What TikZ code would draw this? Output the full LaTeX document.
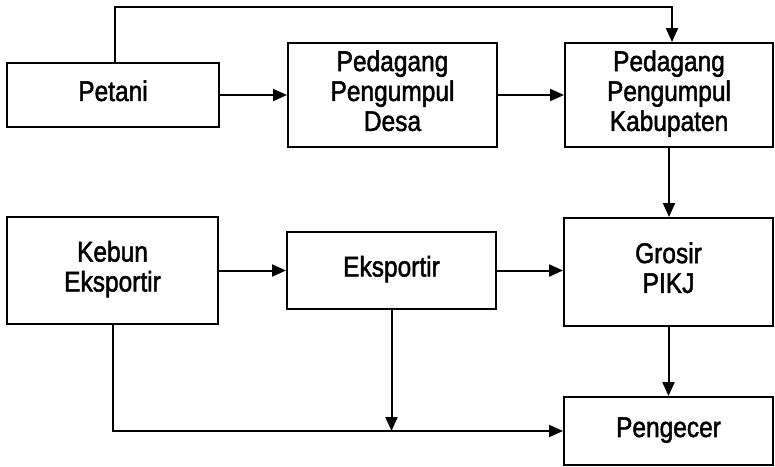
\documentclass[tikz,border=0pt]{standalone}
\usepackage{fontspec}
\usepackage{graphicx}
\setmainfont{Liberation Sans}[FakeBold=1.8]
\usetikzlibrary{arrows.meta}
\newcommand{\tx}[1]{\raisebox{-3pt}{\scalebox{1}[1.16]{\begin{tabular}{@{}c@{}}#1\end{tabular}}}}
\begin{document}
\begin{tikzpicture}[x=1pt,y=-1pt,
  box/.style={draw,line width=2pt,inner sep=0pt,font=\fontsize{24.5}{25.8}\selectfont},
  arr/.style={line width=2pt,-{Triangle[length=14pt,width=12pt]}}]
\useasboundingbox (0,0) rectangle (775,466);
\node[box,minimum width=212pt,minimum height=64pt] (petani) at (113,95) {\tx{Petani}};
\node[box,minimum width=209pt,minimum height=104pt] (desa) at (392.5,95) {\tx{Pedagang\\Pengumpul\\Desa}};
\node[box,minimum width=208pt,minimum height=104pt] (kab) at (669,95) {\tx{Pedagang\\Pengumpul\\Kabupaten}};
\node[box,minimum width=211pt,minimum height=107pt] (kebun) at (112.5,270.5) {\tx{Kebun\\Eksportir}};
\node[box,minimum width=209pt,minimum height=77pt] (eks) at (391.5,270.5) {\tx{Eksportir}};
\node[box,minimum width=209pt,minimum height=108pt] (grosir) at (668.5,272) {\tx{Grosir\\PIKJ}};
\node[box,minimum width=209pt,minimum height=68pt] (pengecer) at (668.5,431) {\tx{Pengecer}};
\coordinate (t1) at (115,7);
\coordinate (t2) at (672,7);
\coordinate (bl) at (113,431);
\draw[arr] (petani.north -| t1) -- (t1) -- (t2) -- (kab.north -| t2);
\draw[arr] (petani.east) -- (desa.west);
\draw[arr] (desa.east) -- (kab.west);
\draw[arr] (kab.south) -- (grosir.north -| kab.south);
\draw[arr] (kebun.east) -- (eks.west);
\draw[arr] (eks.east) -- (eks.east -| grosir.west);
\draw[arr] (grosir.south) -- (pengecer.north);
\draw[arr] (kebun.south -| bl) -- (bl) -- (pengecer.west);
\draw[arr] (eks.south) -- (eks.south |- bl);
\end{tikzpicture}
\end{document}
